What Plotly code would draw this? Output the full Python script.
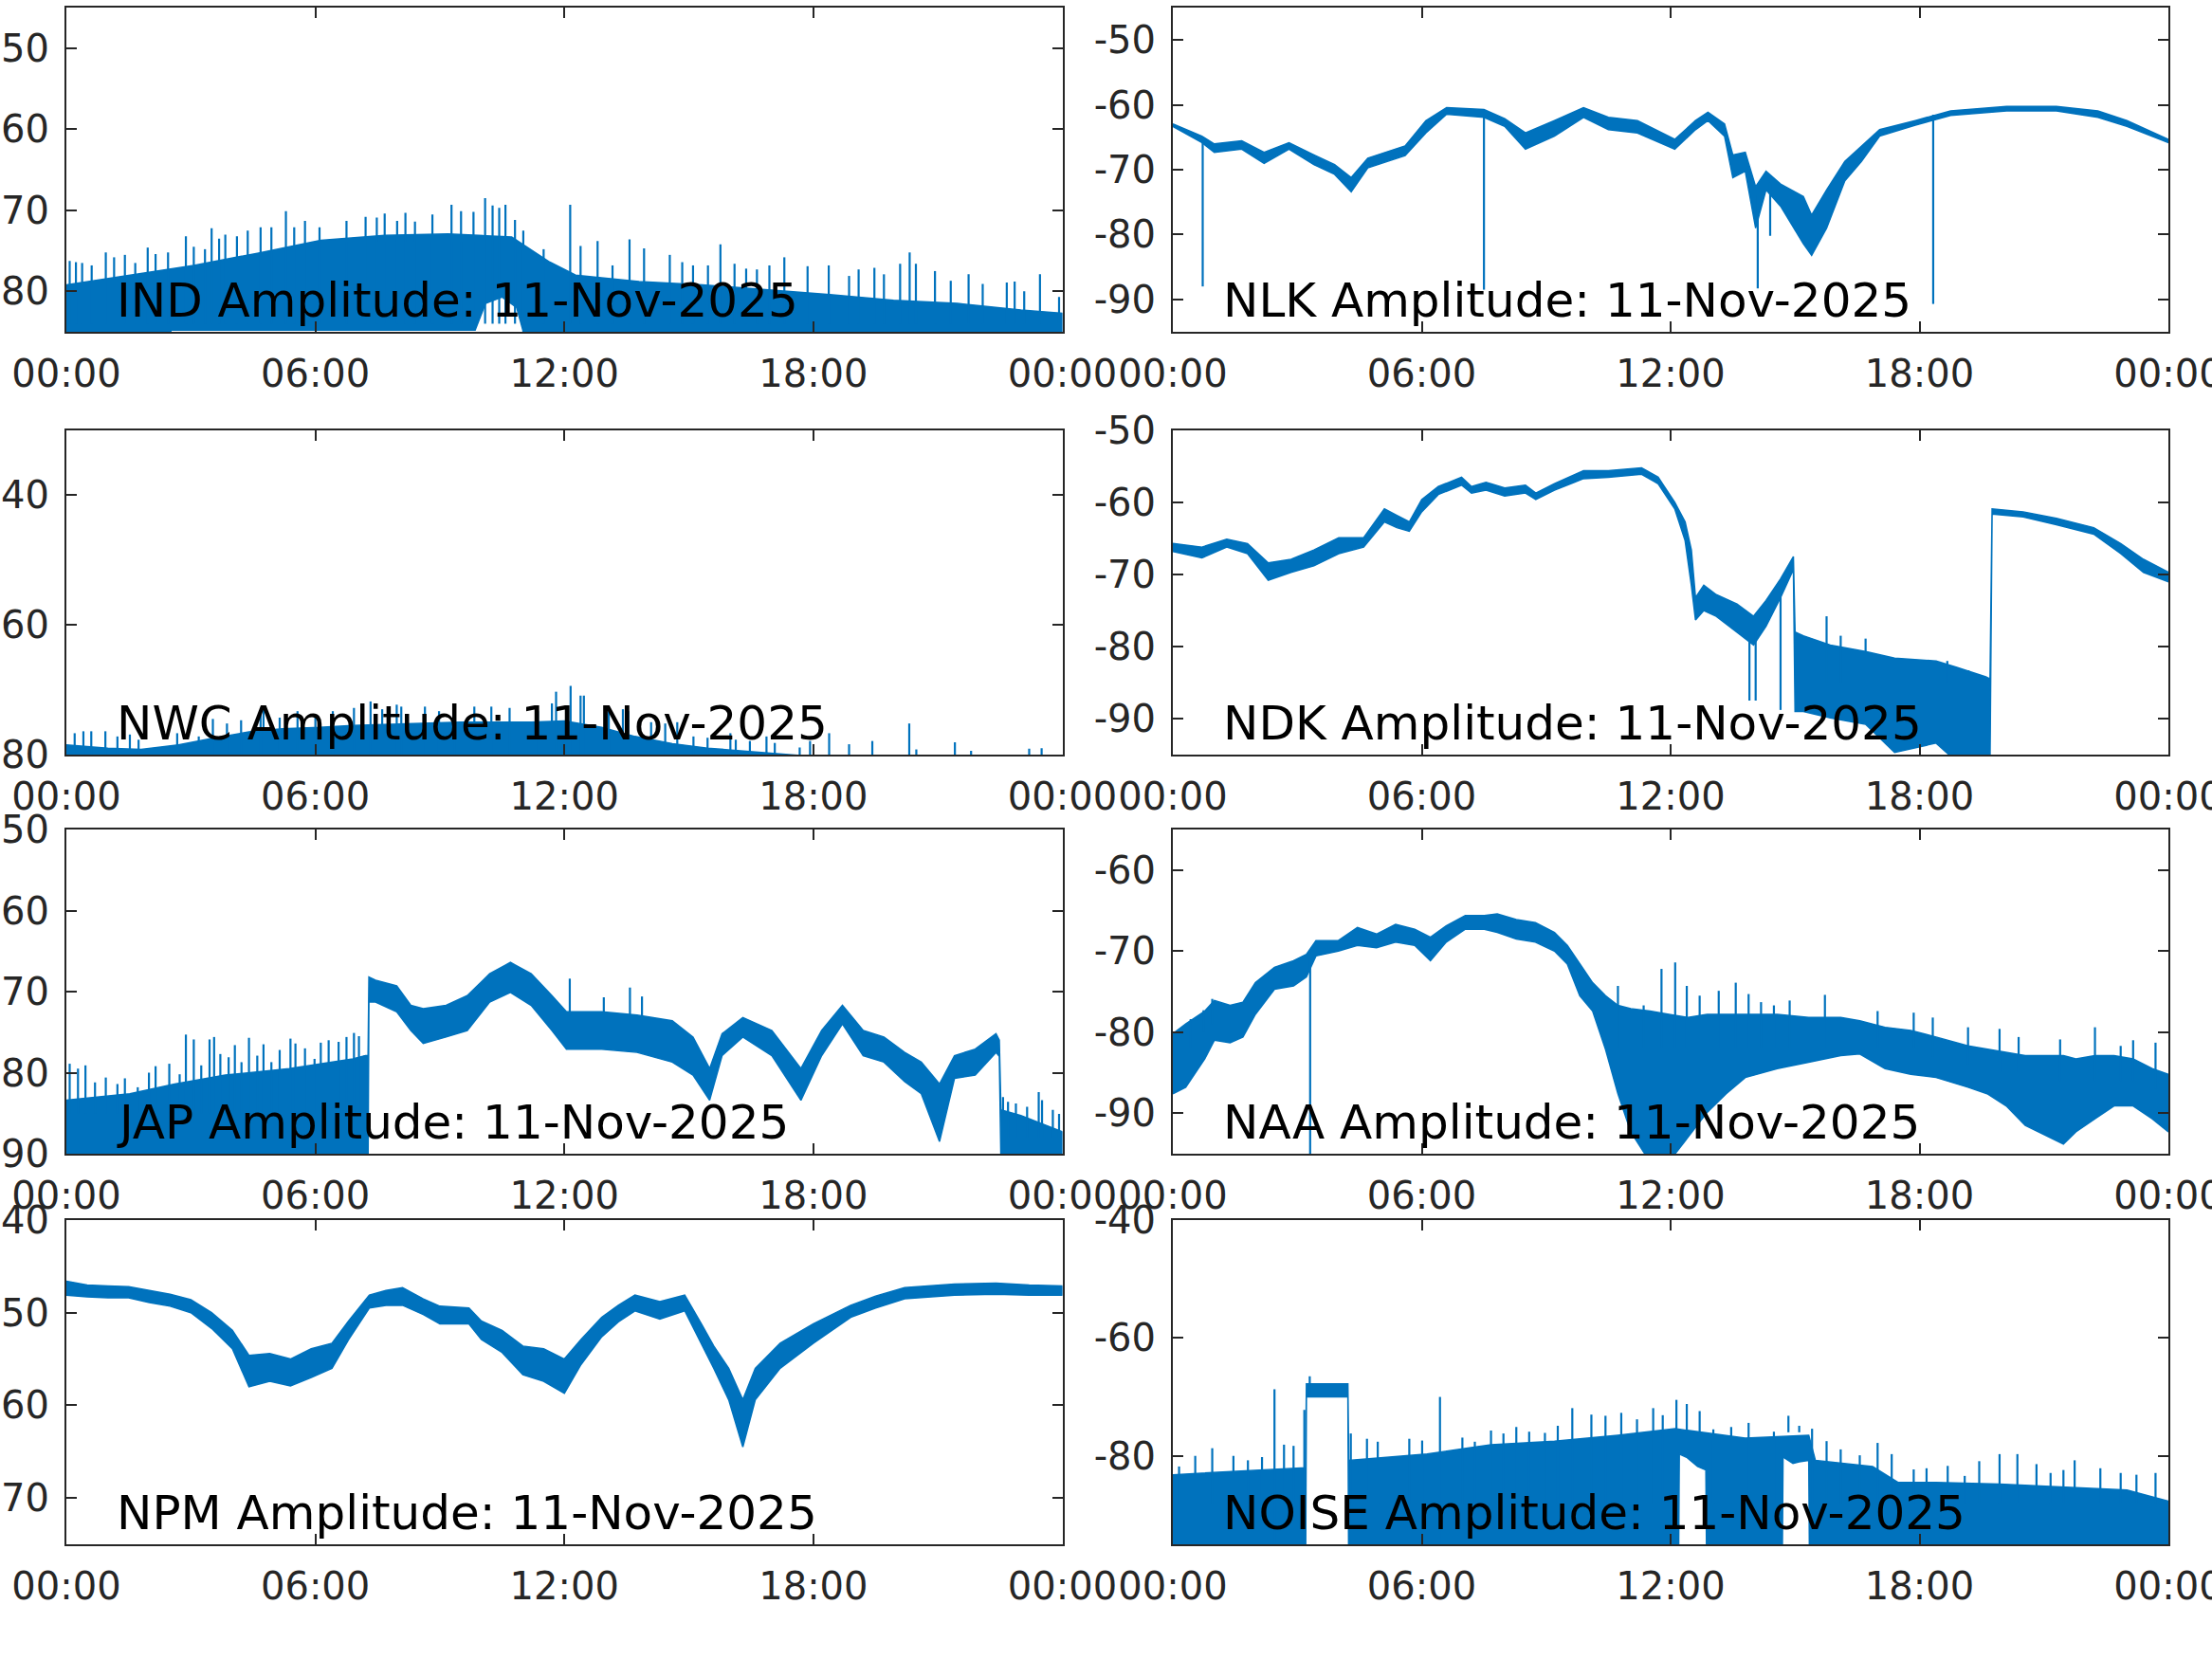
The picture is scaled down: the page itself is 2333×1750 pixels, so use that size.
import numpy as np
import pandas as pd
import plotly.graph_objects as go

DATE = "2025-11-11"
STATIONS = ["IND", "NLK", "NWC", "NDK", "JAP", "NAA", "NPM", "NOISE"]
X_TICK_HOURS = [0, 6, 12, 18, 24]
Y_RANGES = {"IND": [-85, -45], "NLK": [-95, -45], "NWC": [-80, -30], "NDK": [-95, -50],
            "JAP": [-90, -50], "NAA": [-95, -55], "NPM": [-75, -40], "NOISE": [-95, -40]}
Y_TICKS = {"IND": [-80, -70, -60, -50], "NLK": [-90, -80, -70, -60, -50], "NWC": [-80, -60, -40],
           "NDK": [-90, -80, -70, -60, -50], "JAP": [-90, -80, -70, -60, -50],
           "NAA": [-90, -80, -70, -60], "NPM": [-70, -60, -50, -40], "NOISE": [-80, -60, -40]}

# ---------------- IND ----------------
IND_T = [0, 1.53, 3.07, 4.6, 6.13, 7.67, 9.2, 10.73, 11.65, 12.27, 13.8, 15.33, 16.87, 18.4, 19.93,
         21.47, 23.0, 24]
IND_HI = [-79.2, -78.0, -76.8, -75.3, -73.7, -73.1, -72.9, -73.3, -76.4, -78.0, -78.8, -79.2, -79.8,
          -80.4, -81.1, -81.5, -82.3, -82.7]
IND_TL = [0, 2.5, 2.52, 9.85, 10.1, 10.5, 10.85, 11.0, 11.02, 24]
IND_LO = [-86, -86, -84.8, -84.8, -81.5, -80.7, -82.0, -84.8, -86, -86]
IND_ST = [0.08, 0.23, 0.38, 0.61, 0.95, 1.15, 1.41, 1.66, 1.96, 2.15, 2.45, 2.88, 3.07, 3.34, 3.50,
          3.68, 3.83, 4.11, 4.37, 4.68, 4.94, 5.29, 5.49, 5.75, 6.10, 6.75, 7.21, 7.48, 7.67, 7.97,
          8.17, 8.40, 8.82, 9.28, 9.51, 9.81, 10.09, 10.27, 10.43, 10.58, 10.81, 11.01, 11.5, 12.14,
          12.39, 12.8, 13.16, 13.57, 13.92, 14.54, 14.84, 15.1, 15.46, 15.76, 16.1, 16.38, 16.64,
          16.94, 17.3, 17.86, 18.37, 18.86, 19.09, 19.47, 19.7, 20.09, 20.32, 20.47, 20.93, 21.31,
          21.74, 22.08, 22.66, 22.85, 23.08, 23.46, 23.92]
IND_SV = [-76.25, -76.4, -76.5, -76.8, -75.2, -75.8, -75.5, -76.5, -74.6, -75.4, -75.2, -73.2, -74.5,
          -74.8, -72.2, -73.5, -73.0, -73.2, -72.5, -72.1, -72.1, -70.1, -72.1, -71.3, -72.1, -71.3,
          -70.8, -70.9, -70.4, -71.3, -70.3, -71.4, -70.5, -69.3, -70.1, -70.2, -68.5, -69.4, -69.7,
          -69.3, -71.2, -72.5, -74.8, -69.3, -74.4, -73.8, -76.8, -73.6, -74.7, -75.5, -76.4, -76.8,
          -76.8, -74.2, -76.6, -77.2, -77.3, -76.8, -75.8, -76.9, -76.8, -78.1, -77.3, -77.1, -77.9,
          -76.6, -75.2, -76.6, -77.5, -78.7, -77.9, -79.1, -78.9, -78.8, -80.0, -77.9, -80.7]
IND_SB = [-84.0] * len(IND_ST)

# ---------------- NLK ----------------
NLK_T = [0, 0.7, 1.0, 1.66, 2.2, 2.8, 3.4, 3.9, 4.3, 4.7, 5.6, 6.1, 6.6, 7.5, 8.0, 8.5, 9.2, 9.9,
         10.5, 11.2, 12.1, 12.6, 12.9, 13.3, 13.5, 13.8, 14.05, 14.3, 14.65, 15.2, 15.4, 15.76,
         16.2, 16.6, 17.04, 17.9, 18.75, 20.1, 21.3, 22.3, 23.0, 24]
NLK_HI = [-62.9, -64.8, -66.0, -65.5, -67.3, -65.8, -67.7, -69.2, -71.2, -68.2, -66.3, -62.4, -60.4,
          -60.7, -62.1, -64.3, -62.4, -60.4, -61.9, -62.4, -65.3, -62.4, -61.1, -62.9, -67.7, -67.3,
          -72.6, -70.2, -72.2, -74.1, -77.0, -73.1, -68.7, -66.3, -63.8, -62.4, -60.9, -60.2, -60.2,
          -60.9, -62.4, -65.3]
NLK_LO = [-63.3, -65.8, -67.3, -66.8, -69.0, -66.8, -69.2, -70.7, -73.4, -69.7, -67.8, -64.3, -61.4,
          -61.9, -63.3, -66.8, -64.8, -61.9, -63.8, -64.3, -66.8, -63.8, -62.4, -64.8, -71.2, -70.2,
          -79.0, -73.1, -75.6, -81.4, -83.2, -79.0, -71.7, -68.7, -64.8, -63.1, -61.6, -60.9, -60.9,
          -61.9, -63.3, -65.8]
NLK_ST = [0.72, 7.5, 14.1, 14.4, 18.33]
NLK_SV = [-88.0, -88.5, -88.3, -80.2, -90.7]
NLK_SB = [-65.5, -61.5, -74.0, -72.0, -61.5]

# ---------------- NWC ----------------
NWC_T = [0, 1, 1.8, 2.7, 3.5, 4.4, 5.2, 6.1, 6.9, 7.8, 8.6, 9.5, 10.3, 11.2, 12, 12.9, 13.7, 14.6,
         15.45, 16.3, 17.15, 18, 24]
NWC_HI = [-78.5, -79.0, -79.2, -78.5, -77.5, -76.5, -76.0, -75.8, -75.5, -75.3, -75.2, -75.0, -75.0,
          -75.0, -74.8, -75.8, -77.2, -78.3, -79.0, -79.4, -79.8, -80.3, -80.3]
NWC_TL = [0, 24]
NWC_LO = [-82, -82]
NWC_ST = [0.41, 0.94, 1.53, 3.53, 4.75, 7.33, 8.07, 9.35, 10.24, 11.8, 12.15, 12.47, 13.54, 14.72,
          16.0, 16.87, 18.38, 18.86, 19.42, 20.31, 20.48, 21.41, 21.8, 23.2, 23.5,
          0.2, 0.6, 1.23, 1.74, 2.67, 3.19, 3.87, 4.21, 4.68, 5.14, 5.57, 6.0, 6.42, 6.93, 7.61,
          7.96, 8.64, 8.98, 9.83, 10.68, 11.36, 11.7, 12.39, 13.07, 13.41, 14.09, 14.43, 15.11,
          15.45, 16.13, 16.47, 17.07, 17.67, 17.92]
NWC_SV = [-76.4, -76.4, -76.9, -74.5, -72.6, -71.8, -72.6, -72.6, -72.6, -70.3, -69.4, -70.9, -73.3,
          -75.0, -76.7, -77.2, -76.7, -78.4, -77.9, -75.2, -79.2, -78.1, -79.4, -79.1, -79.0,
          -76.7, -76.4, -77.2, -77.7, -76.7, -77.2, -75.2, -74.7, -73.8, -74.3, -73.3, -74.0, -73.3,
          -72.8, -73.0, -72.3, -72.6, -73.3, -72.6, -72.8, -73.3, -72.1, -70.9, -73.3, -73.0, -75.0,
          -75.2, -77.2, -77.4, -77.7, -77.9, -78.2, -78.9, -77.9]
NWC_SB = [-80.5] * len(NWC_ST)

# ---------------- NDK ----------------
NDK_T = [0, 0.7, 1.3, 1.8, 2.3, 2.85, 3.4, 4.0, 4.6, 5.1, 5.4, 5.7, 6.0, 6.4, 6.96, 7.2, 7.55, 8.0,
         8.5, 8.75, 9.2, 9.9, 10.5, 11.3, 11.7, 12.1, 12.35, 12.5, 12.6, 12.8, 13.1, 13.6, 14.0,
         14.3, 14.65, 14.96, 15.0, 15.2, 15.85, 16.7, 17.4, 18.4, 18.9, 19.6, 19.7, 19.75, 20.5,
         21.3, 22.2, 22.85, 23.4, 24]
NDK_HI = [-65.7, -66.2, -65.1, -65.7, -68.4, -67.9, -66.6, -64.9, -64.9, -60.9, -61.8, -62.7, -59.6,
          -57.8, -56.5, -57.8, -57.2, -58.0, -57.6, -58.7, -57.4, -55.6, -55.6, -55.2, -56.5, -60.0,
          -62.7, -66.6, -73.2, -71.5, -72.8, -74.1, -75.8, -73.6, -70.6, -67.5, -78.0, -78.5, -79.8,
          -80.7, -81.6, -82.0, -82.9, -84.2, -84.5, -60.9, -61.3, -62.2, -63.5, -65.7, -67.9, -69.7]
NDK_LO = [-66.8, -67.7, -66.2, -67.1, -70.8, -69.7, -68.8, -67.1, -66.2, -62.7, -63.5, -64.0, -61.3,
          -58.9, -57.6, -58.7, -58.3, -59.1, -58.7, -59.6, -58.3, -56.7, -56.5, -56.1, -57.4, -60.9,
          -65.3, -71.5, -76.3, -75.0, -75.8, -78.0, -79.8, -77.2, -73.2, -69.3, -89.0, -89.0, -89.9,
          -90.8, -94.7, -93.4, -96.0, -96.0, -96.0, -61.6, -62.0, -63.1, -64.4, -67.1, -69.7, -71.0]
NDK_ST = [13.9, 14.05, 14.65, 15.76, 16.1, 16.7, 18.67, 19.18, 19.5]
NDK_SV = [-87.5, -87.5, -88.8, -75.8, -78.5, -78.9, -82.0, -83.3, -84.2]
NDK_SB = [-78.0, -78.0, -72.0, -85.0, -85.0, -85.0, -85.0, -85.0, -86.0]

# ---------------- JAP ----------------
JAP_T = [0, 1.53, 2.61, 3.83, 5.37, 6.9, 7.21, 7.27, 7.29, 7.45, 7.96, 8.3, 8.6, 9.15, 9.66, 10.2,
         10.7, 11.2, 11.7, 12.05, 12.9, 13.75, 14.6, 15.1, 15.5, 15.8, 16.3, 17.0, 17.7, 18.2, 18.7,
         19.2, 19.7, 20.2, 20.6, 21.04, 21.4, 21.9, 22.4, 22.48, 22.52, 23.0, 23.61, 24]
JAP_HI = [-83.4, -82.6, -81.4, -80.3, -79.5, -78.3, -77.9, -77.9, -68.2, -68.6, -69.3, -71.7, -72.1,
          -71.7, -70.5, -67.8, -66.4, -67.8, -70.5, -72.5, -72.5, -72.9, -73.6, -75.6, -79.5, -75.2,
          -73.2, -74.8, -79.5, -74.8, -71.7, -74.8, -75.6, -77.5, -78.7, -81.4, -77.9, -77.1, -75.2,
          -76.0, -84.6, -85.3, -86.5, -87.3]
JAP_LO = [-91, -91, -91, -91, -91, -91, -91, -91, -71.3, -71.3, -72.5, -74.8, -76.4, -75.6, -74.8,
          -71.3, -70.1, -71.7, -74.8, -77.1, -77.1, -77.5, -78.7, -80.3, -83.4, -77.9, -75.6, -77.9,
          -83.4, -77.9, -74.0, -77.9, -78.7, -81.1, -82.6, -88.5, -80.7, -80.3, -77.5, -78.0, -91,
          -91, -91, -91]
JAP_ST = [0.08, 0.28, 0.46, 0.69, 0.95, 1.23, 1.41, 1.72, 1.99, 2.15, 2.48, 2.73, 2.88, 3.07, 3.25,
          3.45, 3.56, 3.71, 3.91, 4.06, 4.22, 4.4, 4.6, 4.75, 4.94, 5.14, 5.4, 5.52, 5.75, 5.98,
          6.13, 6.32, 6.56, 6.75, 6.93, 7.05, 7.18,
          12.13, 12.95, 13.58, 13.87,
          22.57, 22.69, 22.88, 23.15, 23.43, 23.51, 23.77, 23.92]
JAP_SV = [-78.9, -79.5, -79.1, -81.2, -80.6, -81.4, -80.7, -81.8, -80.0, -79.2, -78.9, -80.2, -75.3,
          -75.9, -79.1, -75.9, -75.6, -77.7, -78.1, -76.6, -78.7, -75.7, -77.9, -76.5, -78.7, -77.2,
          -75.8, -76.4, -77.0, -78.3, -76.3, -76.0, -76.2, -75.6, -75.1, -75.5, -77.9,
          -68.4, -70.7, -69.5, -70.6,
          -83.0, -83.6, -83.8, -84.2, -82.4, -83.4, -84.6, -85.1]
JAP_SB = [-85.0] * 37 + [-73.0] * 4 + [-88.0] * 8

# ---------------- NAA ----------------
NAA_T = [0, 0.31, 0.77, 1.0, 1.38, 1.69, 1.99, 2.45, 2.91, 3.22, 3.45, 3.99, 4.45, 4.91, 5.37, 5.83,
         6.21, 6.59, 7.05, 7.51, 7.82, 8.28, 8.74, 9.2, 9.51, 9.81, 10.12, 10.43, 10.73, 11.04,
         11.5, 11.96, 12.42, 12.88, 13.34, 13.8, 14.57, 15.33, 16.1, 16.56, 17.17, 17.79, 18.4,
         19.17, 19.63, 20.09, 20.55, 21.16, 21.47, 21.77, 22.23, 22.69, 23.15, 23.61, 24]
NAA_HI = [-80.2, -79.0, -77.4, -76.1, -76.7, -76.3, -73.9, -72.0, -71.2, -70.4, -68.7, -68.7, -67.1,
          -67.9, -66.7, -67.3, -68.3, -66.9, -65.6, -65.6, -65.4, -66.1, -66.5, -67.7, -69.3, -71.6,
          -73.9, -75.5, -76.7, -77.1, -77.4, -77.8, -78.2, -77.8, -77.8, -77.8, -77.8, -78.2, -78.2,
          -78.6, -79.4, -79.8, -80.6, -81.7, -82.1, -82.5, -82.9, -82.9, -82.9, -83.3, -82.9, -82.9,
          -83.3, -84.5, -85.2]
NAA_LO = [-87.6, -86.8, -83.3, -81.0, -81.3, -80.6, -77.8, -74.7, -74.3, -73.2, -70.6, -70.0, -69.3,
          -69.6, -68.9, -69.3, -71.2, -68.9, -67.3, -67.3, -67.7, -68.5, -68.9, -70.0, -71.6, -75.5,
          -77.4, -82.1, -87.6, -92.3, -96.0, -96.0, -93.0, -89.9, -87.6, -85.6, -84.5, -83.7, -82.9,
          -82.7, -84.5, -85.2, -85.6, -86.8, -87.6, -89.1, -91.5, -93.0, -93.8, -92.3, -90.7, -89.1,
          -89.1, -90.7, -92.3]
NAA_ST = [3.31, 0.43, 0.74, 0.95, 10.73, 11.35, 11.78, 12.11, 12.39, 12.7, 13.16, 13.57, 13.88, 14.18,
          14.49, 14.87, 15.72, 16.99, 17.86, 18.32, 19.17, 19.93, 20.39, 21.39, 22.23, 22.85, 23.15,
          23.69]
NAA_SV = [-95.5, -78.4, -77.3, -75.9, -74.3, -76.7, -72.2, -71.4, -74.3, -75.5, -74.9, -73.9, -75.3,
          -76.3, -76.7, -76.1, -75.4, -77.4, -77.6, -78.2, -79.4, -79.6, -80.6, -80.9, -79.4, -81.7,
          -81.0, -81.3]
NAA_SB = [-71.0, -82.0, -80.0, -79.0, -82.0, -82.0, -82.0, -82.0, -82.0, -82.0, -82.0, -82.0, -82.0,
          -82.0, -82.0, -82.0, -82.0, -82.0, -82.0, -83.0, -84.0, -85.0, -85.0, -86.0, -86.0, -86.0,
          -86.0, -87.0]

# ---------------- NPM ----------------
NPM_T = [0, 0.5, 1, 1.5, 2, 2.5, 3, 3.5, 4, 4.4, 4.9, 5.4, 5.9, 6.4, 6.8, 7.3, 7.7, 8.1, 8.6, 9, 9.7,
         10, 10.5, 11, 11.5, 12, 12.4, 12.9, 13.3, 13.7, 14.3, 14.9, 15.3, 15.6, 15.96, 16.3, 16.6,
         17.2, 18, 18.9, 19.5, 20.2, 21.4, 22.4, 23.2, 24]
NPM_HI = [-46.6, -47.0, -47.1, -47.2, -47.6, -48.0, -48.6, -50.0, -51.9, -54.6, -54.4, -55.0, -53.9,
          -53.3, -50.9, -48.1, -47.6, -47.3, -48.5, -49.3, -49.5, -50.9, -51.9, -53.6, -53.9, -55.0,
          -52.9, -50.5, -49.2, -48.1, -48.8, -48.1, -51.2, -53.6, -56.0, -59.4, -56.0, -53.3, -51.2,
          -49.2, -48.2, -47.3, -46.9, -46.8, -47.0, -47.1]
NPM_LO = [-48.1, -48.3, -48.4, -48.4, -48.9, -49.3, -50.0, -51.7, -53.9, -58.0, -57.4, -57.9, -57.0,
          -56.0, -52.9, -49.5, -49.2, -49.2, -50.2, -51.2, -51.2, -52.9, -54.3, -56.7, -57.4, -58.7,
          -55.6, -52.6, -51.0, -49.8, -50.7, -49.8, -53.3, -56.0, -59.4, -64.5, -59.4, -56.0, -53.3,
          -50.5, -49.5, -48.5, -48.1, -48.0, -48.1, -48.1]
NPM_ST = []
NPM_SV = []
NPM_SB = []

# ---------------- NOISE ----------------
NOISE_T = [0, 2.15, 3.2, 3.22, 4.22, 4.24, 6.13, 7.67, 9.2, 10.73, 12.11, 13.8, 15.33, 15.49, 16.87,
           17.48, 18.4, 19.93, 21.47, 23.0, 24]
NOISE_HI = [-83.2, -82.4, -82.0, -67.8, -67.8, -80.75, -79.7, -78.1, -77.5, -76.5, -75.4, -77.0,
            -76.5, -80.75, -81.8, -84.5, -84.5, -84.8, -85.3, -85.8, -87.7]
NOISE_TL = [0, 3.2, 3.22, 4.22, 4.24, 12.19, 12.21, 12.4, 12.65, 12.85, 12.87, 14.69, 14.71, 14.95,
            15.1, 15.33, 15.35, 24]
NOISE_LO = [-100, -100, -70, -70, -100, -100, -79.7, -80.3, -81.8, -82.4, -100, -100, -80.2, -81.3,
            -81.0, -80.75, -100, -100]
NOISE_ST = [0.15, 0.54, 0.95, 1.46, 1.81, 2.15, 2.45, 2.68, 2.91, 3.17, 3.30, 4.29, 4.68, 4.94, 5.70,
            6.01, 6.44, 6.98, 7.28, 7.67, 7.97, 8.28, 8.59, 8.97, 9.28, 9.63, 10.09, 10.43, 10.81,
            11.19, 11.58, 11.81, 12.14, 12.39, 12.7, 13.03, 13.46, 13.88, 14.49, 14.84, 15.1, 15.41,
            15.76, 16.1, 16.56, 16.99, 17.33, 17.86, 18.17, 18.68, 19.09, 19.44, 19.93, 20.36,
            20.82, 21.16, 21.47, 21.74, 22.36, 22.85, 23.23, 23.69]
NOISE_SV = [-81.8, -80.0, -78.7, -80.0, -80.75, -80.2, -68.7, -78.1, -78.3, -72.2, -66.5, -76.2,
            -77.1, -77.6, -77.1, -77.4, -70.0, -76.9, -77.6, -75.7, -76.2, -75.1, -75.9, -76.1,
            -74.9, -71.9, -73.0, -73.2, -72.7, -73.8, -71.9, -73.1, -70.5, -71.2, -72.4, -75.5,
            -75.1, -74.4, -75.9, -73.2, -74.9, -75.4, -77.5, -78.9, -79.9, -77.8, -79.7, -82.3,
            -82.1, -81.7, -83.4, -80.9, -79.7, -79.7, -81.4, -82.9, -82.4, -80.75, -82.1, -82.9,
            -83.2, -82.9]
NOISE_SB = [-88, -88, -88, -88, -88, -88, -100, -88, -88, -95,
            -70, -88, -88, -88, -88, -88, -100, -88, -88, -88,
            -88, -88, -88, -88, -88, -88, -88, -88, -88, -88,
            -88, -88, -88, -76, -76, -88, -88, -88, -88, -76,
            -76, -88, -88, -88, -88, -88, -88, -88, -88, -88,
            -88, -88, -88, -88, -88, -88, -88, -88, -88, -88,
            -88, -88]

SERIES = {
    "IND": (IND_T, IND_HI, IND_TL, IND_LO, IND_ST, IND_SV, IND_SB),
    "NLK": (NLK_T, NLK_HI, NLK_T, NLK_LO, NLK_ST, NLK_SV, NLK_SB),
    "NWC": (NWC_T, NWC_HI, NWC_TL, NWC_LO, NWC_ST, NWC_SV, NWC_SB),
    "NDK": (NDK_T, NDK_HI, NDK_T, NDK_LO, NDK_ST, NDK_SV, NDK_SB),
    "JAP": (JAP_T, JAP_HI, JAP_T, JAP_LO, JAP_ST, JAP_SV, JAP_SB),
    "NAA": (NAA_T, NAA_HI, NAA_T, NAA_LO, NAA_ST, NAA_SV, NAA_SB),
    "NPM": (NPM_T, NPM_HI, NPM_T, NPM_LO, NPM_ST, NPM_SV, NPM_SB),
    "NOISE": (NOISE_T, NOISE_HI, NOISE_TL, NOISE_LO, NOISE_ST, NOISE_SV, NOISE_SB),
}

LINE_COLOR = "#0072BD"
AXIS_COLOR = "#262626"
FONT = "DejaVu Sans"
W, H = 2333, 1750
COL_PX = [(70, 1120.5), (1237, 2287)]
ROW_PX = [(8.3, 350), (454, 796), (875, 1217), (1287, 1629)]


def to_dt(hours):
    return list(pd.Timestamp(DATE) + pd.to_timedelta(np.asarray(hours, dtype=float), unit="h"))


fig = go.Figure()
layout = dict(width=W, height=H, margin=dict(l=0, r=0, t=0, b=0), paper_bgcolor="white",
              plot_bgcolor="white", showlegend=False, annotations=[])

x_ticks = to_dt(X_TICK_HOURS)
for i, name in enumerate(STATIONS):
    row, col = divmod(i, 2)
    sfx = "" if i == 0 else str(i + 1)
    xa, ya = "x" + sfx, "y" + sfx
    T, HI, TL, LO, ST, SV, SB = SERIES[name]
    assert len(T) == len(HI) and len(TL) == len(LO) and len(ST) == len(SV) == len(SB), name
    xs = to_dt(T) + to_dt(TL)[::-1]
    ys = list(HI) + list(LO)[::-1]
    fig.add_trace(go.Scatter(x=xs, y=ys, mode="lines", fill="toself", fillcolor=LINE_COLOR,
                             line=dict(color=LINE_COLOR, width=1.5), xaxis=xa, yaxis=ya,
                             hoverinfo="skip"))
    if ST:
        sx, sy = [], []
        for t, v, b in zip(to_dt(ST), SV, SB):
            sx += [t, t, None]
            sy += [b, v, None]
        fig.add_trace(go.Scatter(x=sx, y=sy, mode="lines", line=dict(color=LINE_COLOR, width=2.2),
                                 xaxis=xa, yaxis=ya, hoverinfo="skip"))
    c0, c1 = COL_PX[col]
    r0, r1 = ROW_PX[row]
    common = dict(showgrid=False, zeroline=False, showline=True, linecolor=AXIS_COLOR, linewidth=2,
                  mirror="ticks", ticks="inside", ticklen=11, tickwidth=2, tickcolor=AXIS_COLOR,
                  tickfont=dict(family=FONT, size=40, color=AXIS_COLOR), automargin=False,
                  ticklabeloverflow="allow", ticklabelstandoff=8)
    layout["xaxis" + sfx] = dict(common, domain=[c0 / W, c1 / W], anchor=ya, type="date",
                                 range=[x_ticks[0], x_ticks[-1]], tickvals=x_ticks,
                                 tickformat="%H:%M")
    layout["yaxis" + sfx] = dict(common, domain=[1 - r1 / H, 1 - r0 / H], anchor=xa,
                                 range=Y_RANGES[name], tickvals=Y_TICKS[name],
                                 ticktext=[str(v) for v in Y_TICKS[name]])
    layout["annotations"].append(dict(text=f"{name} Amplitude: 11-Nov-2025", xref=xa + " domain",
                                      yref=ya + " domain", x=0.049, y=0, xanchor="left",
                                      yanchor="bottom", yshift=2, showarrow=False,
                                      font=dict(family=FONT, size=50, color="black")))

fig.update_layout(**layout)
fig.write_html("out.html", config={"displayModeBar": False},
               post_script="document.body.style.margin='0';")
